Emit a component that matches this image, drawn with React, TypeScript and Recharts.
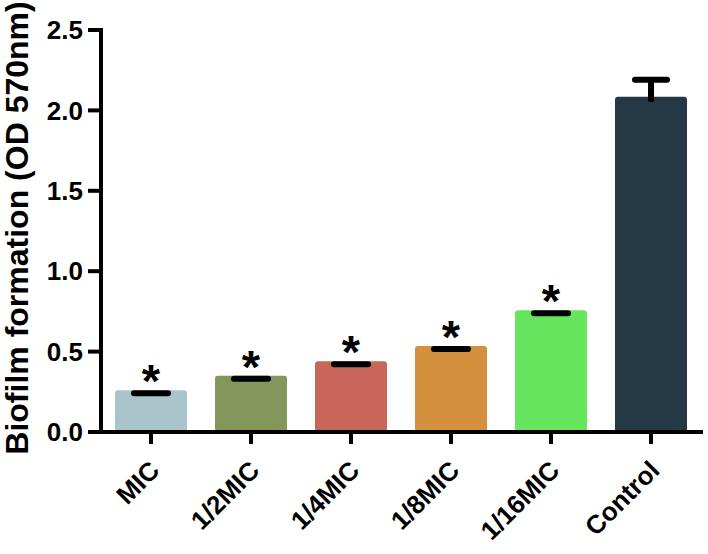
import React from 'react';
import { BarChart, Bar, XAxis, YAxis, Cell } from 'recharts';

const categories = ['MIC', '1/2MIC', '1/4MIC', '1/8MIC', '1/16MIC', 'Control'];
const values = [0.26, 0.35, 0.44, 0.535, 0.757, 2.085];
const errors = [0, 0, 0, 0, 0, 0.125];
const significant = [true, true, true, true, true, false];
const colors = ['#A9C4CA', '#83975A', '#C8665A', '#D4903C', '#66E65E', '#253846'];
const yTicks = [0, 0.5, 1.0, 1.5, 2.0, 2.5];

const data = categories.map((name, i) => ({
  name,
  value: values[i],
  err: errors[i],
  sig: significant[i],
}));

const FONT = 'Arial, "Liberation Sans", sans-serif';

const BarShape = (props: any) => {
  const { x, y, width, height, fill, payload } = props;
  const cx = x + width / 2;
  const pxPerUnit = payload.value ? height / payload.value : 0;
  const capTop = y - payload.err * pxPerUnit;
  const capY = capTop + 3;
  const half = payload.err > 0 ? 16 : 17;
  return (
    <g>
      <rect x={x} y={y} width={width} height={height} rx={3} ry={3} fill={fill} />
      {payload.err > 0 && (
        <line x1={cx} x2={cx} y1={capY} y2={y + 5} stroke="#000" strokeWidth={6} />
      )}
      <line
        x1={cx - half}
        x2={cx + half}
        y1={capY}
        y2={capY}
        stroke="#000"
        strokeWidth={6}
        strokeLinecap="round"
      />
      {payload.sig && (
        <text
          x={cx}
          y={capTop - 19 + 26}
          textAnchor="middle"
          fontFamily={FONT}
          fontWeight="bold"
          fontSize={47}
          fill="#000"
        >
          *
        </text>
      )}
    </g>
  );
};

const XTick = (props: any) => {
  const { x, y, payload } = props;
  const ax = x + 10;
  const ay = y + 28;
  return (
    <text
      x={ax}
      y={ay}
      textAnchor="end"
      transform={`rotate(-45, ${ax}, ${ay})`}
      fontFamily={FONT}
      fontWeight="bold"
      fontSize={26}
      fill="#000"
    >
      {payload.value}
    </text>
  );
};

const YLabel = () => (
  <text
    x={28}
    y={228}
    textAnchor="middle"
    transform="rotate(-90, 28, 228)"
    fontFamily={FONT}
    fontWeight="bold"
    fontSize={32}
    fill="#000"
  >
    Biofilm formation (OD 570nm)
  </text>
);

export default function App() {
  return (
    <div style={{ position: 'absolute', left: 0, top: 0, background: '#fff' }}>
      <BarChart
        width={708}
        height={554}
        data={data}
        margin={{ top: 30, right: 7, bottom: 0, left: 0 }}
        barCategoryGap={28}
      >
        <XAxis
          dataKey="name"
          height={122}
          interval={0}
          stroke="#000"
          strokeWidth={4}
          axisLine={{ stroke: '#000', strokeWidth: 4, strokeLinecap: 'square' }}
          tickLine={{ stroke: '#000', strokeWidth: 4 }}
          tickSize={12}
          tickMargin={0}
          tick={<XTick />}
        />
        <YAxis
          width={101}
          domain={[0, 2.5]}
          ticks={yTicks}
          interval={0}
          stroke="#000"
          strokeWidth={4}
          tickFormatter={(v: number) => v.toFixed(1)}
          axisLine={{ stroke: '#000', strokeWidth: 4, strokeLinecap: 'square' }}
          tickLine={{ stroke: '#000', strokeWidth: 4 }}
          tickSize={13}
          tickMargin={5}
          tick={{ fill: '#000', stroke: 'none', fontFamily: FONT, fontWeight: 'bold', fontSize: 26 }}
          label={{ content: () => <YLabel /> }}
        />
        <Bar dataKey="value" barSize={72} isAnimationActive={false} shape={<BarShape />}>
          {data.map((d, i) => (
            <Cell key={d.name} fill={colors[i]} />
          ))}
        </Bar>
      </BarChart>
    </div>
  );
}
